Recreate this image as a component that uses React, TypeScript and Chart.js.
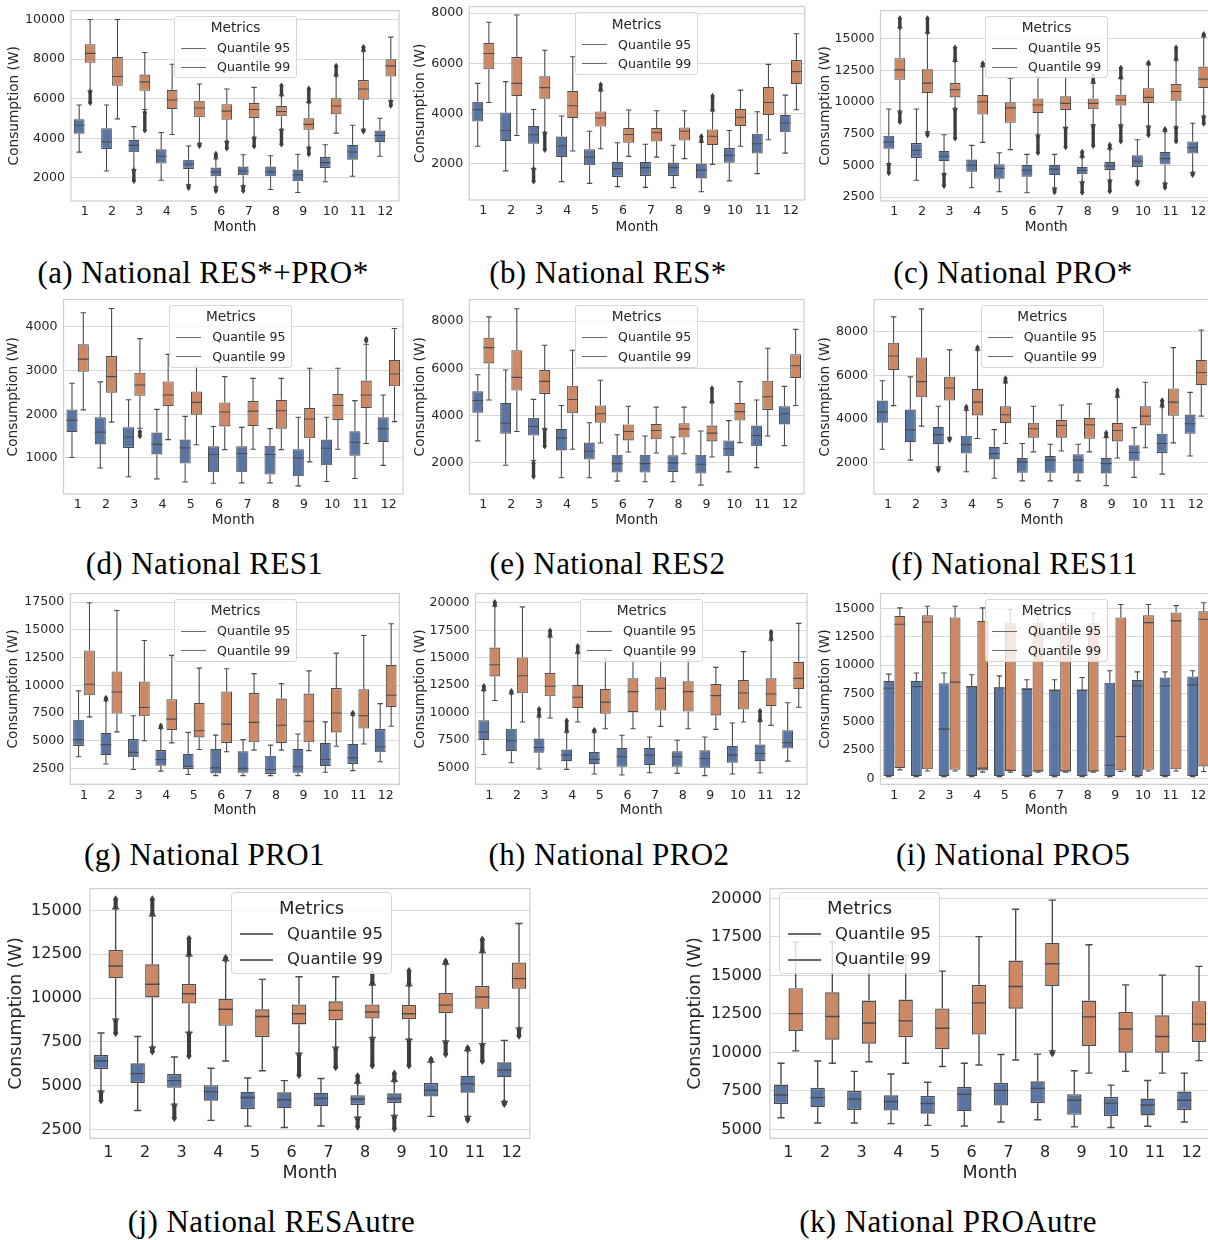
import React, { useEffect, useRef } from 'react';
import { Chart, registerables } from 'chart.js';

Chart.register(...registerables);

// ---------------- DATA ----------------
// Each box: [lower whisker, Q1, median, Q3, upper whisker]; outliers: list of [from, to] ranges per month
const MONTHS = ['1', '2', '3', '4', '5', '6', '7', '8', '9', '10', '11', '12'];
const SERIES = ['Quantile 95', 'Quantile 99'];

// (a) National RES*+PRO*
const A_TICKS = [2000, 4000, 6000, 8000, 10000];
const A_Q95 = [[3300, 4230, 4660, 4960, 5680], [2350, 3460, 3810, 4510, 5680], [2420, 3290, 3640, 3920, 4590], [1880, 2720, 3090, 3440, 4290], [1650, 2450, 2690, 2920, 3610], [1550, 2080, 2300, 2520, 2950], [1600, 2130, 2350, 2570, 3170], [1410, 2080, 2300, 2570, 3120], [1260, 1830, 2150, 2420, 3190], [1800, 2500, 2770, 3050, 3670], [2080, 2920, 3310, 3670, 4660], [3090, 3810, 4140, 4390, 5010]];
const A_OUT95 = [[], [], [[2380, 1850]], [], [[1600, 1500]], [[3050, 3200], [1500, 1350]], [[1550, 1350]], [], [], [], [], []];
const A_Q99 = [[6400, 7810, 8290, 8750, 10000], [4980, 6650, 7120, 8110, 10000], [5450, 6400, 6850, 7220, 8330], [4190, 5480, 5930, 6440, 7740], [3750, 5060, 5530, 5900, 6740], [3850, 4930, 5370, 5720, 6490], [4050, 5030, 5450, 5780, 6570], [4450, 5110, 5350, 5630, 6150], [3550, 4430, 4700, 5010, 5800], [4260, 5210, 5630, 6020, 7150], [4450, 5950, 6490, 6940, 8400], [5900, 7120, 7660, 7990, 9110]];
const A_OUT99 = [[[6350, 5800]], [], [[5300, 4400]], [], [[3700, 3620]], [[3800, 3500]], [[4000, 3600]], [[6200, 6650], [4400, 3700]], [[5850, 6500], [3500, 3200]], [[7200, 7650]], [[8450, 8600], [4400, 4350]], [[5850, 5650]]];

// (b) National RES*
const B_TICKS = [2000, 4000, 6000, 8000];
const B_Q95 = [[2690, 3680, 4150, 4470, 5200], [1710, 2900, 3320, 4040, 5270], [1800, 2790, 3150, 3500, 4160], [1280, 2260, 2700, 3080, 3900], [1210, 1930, 2260, 2570, 3290], [1080, 1470, 1800, 2070, 2830], [1050, 1510, 1840, 2070, 2770], [1040, 1510, 1840, 2040, 2730], [880, 1410, 1740, 2000, 2850], [1310, 2030, 2330, 2620, 3320], [1600, 2400, 2790, 3190, 4070], [2420, 3250, 3620, 3940, 4730]];
const B_OUT95 = [[], [], [[1780, 1300]], [], [], [], [], [], [[2900, 3080]], [], [], []];
const B_Q99 = [[4440, 5760, 6390, 6810, 7640], [3120, 4690, 5200, 6250, 7930], [3250, 4590, 5030, 5480, 6520], [2500, 3820, 4310, 4900, 6260], [2590, 3480, 3820, 4080, 4900], [2290, 2830, 3160, 3420, 4140], [2260, 2880, 3230, 3420, 4110], [2200, 2920, 3290, 3440, 4110], [1970, 2740, 3090, 3360, 4100], [2690, 3500, 3850, 4180, 4930], [2950, 3940, 4440, 5060, 5960], [4150, 5170, 5670, 6130, 7180]];
const B_OUT99 = [[], [], [[3200, 2550]], [], [[4950, 5150]], [], [], [], [[4150, 4700]], [], [], []];

// (c) National PRO*
const C_TICKS = [2500, 5000, 7500, 10000, 12500, 15000];
const C_Q95 = [[5150, 6320, 6840, 7340, 9450], [3830, 5590, 6190, 6760, 9450], [4350, 5330, 5720, 6140, 7420], [3230, 4490, 5010, 5460, 6580], [2920, 3940, 4750, 5090, 6000], [2840, 4100, 4620, 5040, 5870], [3200, 4230, 4700, 5040, 5870], [3700, 4300, 4620, 4880, 5650], [3850, 4620, 4960, 5270, 6300], [3750, 4880, 5330, 5800, 7020], [3600, 5060, 5530, 6060, 7700], [4450, 5930, 6400, 6890, 8330]];
const C_OUT95 = [[[5050, 4400]], [], [[4250, 3400]], [], [], [], [[3100, 2900]], [[5700, 6050], [3600, 2850]], [[6350, 6600], [3750, 2950]], [[3700, 3550]], [[7750, 7850], [3500, 3250]], [[4350, 4250]]];
const C_Q99 = [[9300, 11760, 12540, 13460, 15850], [7650, 10710, 11500, 12590, 15450], [9500, 10370, 10970, 11500, 13200], [6820, 9010, 10030, 10560, 12800], [6240, 8360, 9540, 9980, 11890], [7400, 9140, 9770, 10290, 11990], [8000, 9380, 9900, 10450, 11940], [8200, 9430, 9900, 10290, 11500], [8200, 9720, 10160, 10580, 11850], [8100, 9930, 10370, 11100, 12950], [8050, 10110, 10840, 11420, 13300], [8900, 11100, 11810, 12800, 15150]];
const C_OUT99 = [[[15900, 16600], [9200, 8450]], [[15500, 16600], [7550, 7400]], [[13300, 14300], [9400, 7150]], [[12900, 13050]], [], [[7300, 6000]], [[7900, 6450]], [[11600, 12050], [8100, 6550]], [[11950, 12700], [8100, 6900]], [[13000, 13100], [8000, 7400]], [[13400, 14300], [7950, 6900]], [[15250, 15350], [8800, 8300]]];

// (d) National RES1
const D_TICKS = [1000, 2000, 3000, 4000];
const D_Q95 = [[1010, 1590, 1860, 2110, 2710], [770, 1310, 1590, 1930, 2740], [570, 1230, 1480, 1700, 2330], [520, 1080, 1310, 1580, 2110], [450, 870, 1230, 1420, 1950], [420, 670, 1080, 1270, 1720], [430, 670, 1100, 1270, 1700], [430, 620, 1080, 1280, 1670], [360, 580, 1000, 1200, 1930], [460, 830, 1220, 1420, 1930], [530, 1050, 1360, 1610, 2310], [830, 1360, 1670, 1930, 2440]];
const D_OUT95 = [[], [], [], [], [], [], [], [], [], [], [], []];
const D_Q99 = [[2100, 2970, 3260, 3600, 4320], [1820, 2490, 2860, 3330, 4420], [1680, 2420, 2670, 2950, 3730], [1420, 2190, 2440, 2750, 3370], [1300, 1990, 2270, 2520, 3110], [1190, 1720, 2050, 2270, 2860], [1200, 1730, 2070, 2300, 2820], [1190, 1670, 2080, 2330, 2820], [910, 1450, 1890, 2140, 3050], [1200, 1870, 2200, 2460, 3050], [1330, 2140, 2440, 2770, 3600], [1830, 2640, 2920, 3240, 3960]];
const D_OUT99 = [[], [], [[1600, 1500]], [], [], [], [], [], [], [], [[3680, 3720]], []];

// (e) National RES2
const E_TICKS = [2000, 4000, 6000, 8000];
const E_Q95 = [[2930, 4120, 4640, 5030, 5730], [1900, 3230, 3680, 4540, 5930], [2100, 3160, 3540, 3910, 4690], [1370, 2530, 3050, 3440, 4430], [1370, 2140, 2490, 2860, 3700], [1230, 1590, 1970, 2350, 3190], [1200, 1590, 1970, 2350, 3140], [1200, 1620, 2000, 2320, 3090], [1060, 1550, 1940, 2350, 3350], [1620, 2280, 2600, 2950, 3790], [1800, 2700, 3160, 3580, 4660], [2730, 3630, 4080, 4400, 5240]];
const E_OUT95 = [[], [], [[2000, 1420]], [], [], [], [], [], [], [], [], []];
const E_Q99 = [[4660, 6210, 6880, 7300, 8180], [3330, 5060, 5620, 6770, 8520], [3450, 4920, 5450, 5930, 6980], [2580, 4100, 4680, 5270, 6770], [2840, 3700, 4080, 4430, 5500], [2460, 2950, 3330, 3630, 4400], [2420, 3000, 3370, 3650, 4360], [2390, 3070, 3440, 3680, 4360], [2250, 2910, 3260, 3580, 4550], [2860, 3790, 4170, 4540, 5440], [3140, 4240, 4800, 5480, 6850], [4430, 5590, 6110, 6600, 7650]];
const E_OUT99 = [[], [], [[3400, 2700]], [], [], [], [], [], [[4600, 5150]], [], [], []];

// (f) National RES11
const F_TICKS = [2000, 4000, 6000, 8000];
const F_Q95 = [[2610, 3820, 4310, 4840, 5750], [2110, 2940, 3500, 4430, 5930], [1800, 2840, 3280, 3630, 4580], [1580, 2410, 2820, 3230, 4400], [1280, 2140, 2410, 2720, 3510], [1160, 1530, 2030, 2210, 2870], [1160, 1530, 2110, 2300, 2840], [1160, 1500, 2110, 2380, 2840], [940, 1500, 1950, 2210, 3150], [1320, 2080, 2460, 2790, 3600], [1470, 2440, 2870, 3320, 4550], [2300, 3320, 3780, 4200, 5220]];
const F_OUT95 = [[], [], [[1720, 1660]], [[4450, 4550]], [], [], [], [], [[3200, 3350]], [], [[4600, 4850]], []];
const F_Q99 = [[4610, 6240, 6890, 7500, 8680], [3670, 4990, 5710, 6820, 9050], [3150, 4840, 5420, 5940, 7170], [3100, 4160, 4770, 5380, 7150], [2870, 3810, 4190, 4580, 5650], [2490, 3140, 3550, 3830, 4580], [2530, 3140, 3700, 3960, 4640], [2490, 3090, 3730, 4050, 4690], [2210, 2970, 3470, 3820, 5000], [2680, 3700, 4130, 4580, 5680], [2900, 4150, 4770, 5400, 7270], [4130, 5550, 6130, 6710, 8080]];
const F_OUT99 = [[], [], [[3100, 3050]], [[7200, 7280]], [[5700, 5850]], [], [], [], [[5050, 5300]], [], [], []];

// (g) National PRO1
const G_TICKS = [2500, 5000, 7500, 10000, 12500, 15000, 17500];
const G_Q95 = [[3550, 4530, 5100, 6900, 9500], [2900, 3700, 4650, 5700, 8600], [2400, 3500, 3950, 5150, 7250], [2250, 2750, 3300, 4150, 6100], [1950, 2450, 2700, 3800, 5750], [1850, 2050, 2550, 4250, 5500], [1850, 2100, 2500, 4050, 5100], [1850, 2000, 2400, 3650, 4600], [1850, 2100, 2650, 4250, 5600], [2150, 2700, 3300, 4800, 6700], [2300, 2900, 3450, 4700, 7300], [3100, 3950, 4450, 6050, 8350]];
const G_OUT95 = [[], [[8700, 8850]], [], [[6200, 6350]], [], [], [], [], [], [], [[7400, 7500]], []];
const G_Q99 = [[7150, 9100, 10100, 13150, 17450], [5800, 7450, 9400, 11250, 16750], [5000, 7200, 8000, 10350, 14050], [4800, 5950, 6950, 8750, 12700], [4200, 5300, 5900, 8400, 11550], [4000, 4800, 6500, 9450, 11500], [4150, 4850, 6650, 9300, 11050], [4150, 4800, 6400, 8800, 10150], [4100, 4850, 6750, 9250, 11300], [4500, 5750, 7500, 9750, 12900], [4700, 6100, 7250, 9650, 14500], [6300, 8050, 9100, 11850, 15550]];
const G_OUT99 = [[], [], [], [], [], [], [], [], [], [], [], []];

// (h) National PRO2
const H_TICKS = [5000, 7500, 10000, 12500, 15000, 17500, 20000];
const H_Q95 = [[6180, 7480, 8230, 9290, 12000], [5420, 6480, 7420, 8530, 11700], [4850, 6330, 6810, 7630, 9600], [4820, 5570, 6120, 6630, 8200], [4400, 5300, 5730, 6420, 8200], [4310, 5060, 5970, 6780, 7930], [4520, 5210, 6120, 6780, 7780], [4460, 5060, 5970, 6480, 7480], [4250, 4970, 5820, 6570, 7780], [4400, 5420, 6120, 6960, 9050], [4520, 5570, 6270, 7080, 9200], [5570, 6720, 7260, 8380, 10890]];
const H_OUT95 = [[[12100, 12400]], [[11800, 11950]], [[9700, 10300]], [[8300, 9250]], [[8300, 8400]], [], [], [], [], [], [[9300, 10150]], []];
const H_Q99 = [[11100, 13300, 14360, 15930, 19700], [9140, 11760, 13360, 15020, 19640], [9500, 11490, 12400, 13600, 16900], [9140, 10400, 11400, 12520, 15400], [8530, 9890, 10950, 12150, 14870], [8530, 10040, 11910, 13120, 14720], [8740, 10190, 12210, 13210, 15110], [8530, 10100, 11910, 12850, 14810], [8470, 9740, 11550, 12610, 14120], [9140, 10280, 11790, 12970, 15560], [8830, 10580, 11700, 13120, 16600], [10490, 12150, 13120, 14630, 18130]];
const H_OUT99 = [[[19800, 20050]], [], [[17000, 17450]], [[15500, 16050]], [], [], [], [], [], [], [[16700, 17350]], []];

// (i) National PRO5
const I_TICKS = [0, 2500, 5000, 7500, 10000, 12500, 15000];
const I_Q95 = [[150, 200, 7950, 8600, 9200], [150, 200, 8100, 8600, 9300], [150, 200, 4350, 8400, 9300], [150, 200, 8100, 8100, 9150], [150, 200, 8000, 8000, 9050], [150, 200, 7900, 7900, 8700], [150, 200, 7800, 7800, 8700], [150, 200, 7800, 7800, 8900], [150, 200, 1150, 8450, 9500], [150, 200, 8150, 8700, 9400], [150, 200, 8150, 8900, 9400], [150, 200, 8250, 9000, 9500]];
const I_OUT95 = [[], [], [], [], [], [], [], [], [], [], [], []];
const I_Q99 = [[750, 900, 13600, 14350, 15050], [650, 800, 13800, 14400, 15200], [650, 750, 8500, 14200, 15200], [550, 700, 900, 13900, 15050], [550, 650, 700, 13700, 14900], [550, 620, 650, 13700, 14700], [550, 620, 650, 13700, 14500], [550, 620, 650, 13700, 14600], [600, 700, 3700, 14200, 15350], [650, 750, 13750, 14400, 15350], [650, 800, 13900, 14650, 15250], [600, 1050, 14050, 14750, 15500]];
const I_OUT99 = [[], [], [], [], [], [], [], [], [], [], [], []];

// (j) National RESAutre
const J_TICKS = [2500, 5000, 7500, 10000, 12500, 15000];
const J_Q95 = [[4700, 5950, 6410, 6750, 8010], [3580, 5160, 5690, 6280, 7810], [3950, 4880, 5290, 5670, 6640], [3020, 4140, 4660, 5030, 6000], [2690, 3670, 4330, 4660, 5440], [2610, 3710, 4200, 4620, 5290], [2700, 3820, 4270, 4600, 5410], [3200, 3900, 4230, 4460, 5150], [3300, 4010, 4270, 4570, 5250], [3250, 4380, 4740, 5160, 6350], [3250, 4600, 5110, 5570, 7000], [4100, 5480, 5890, 6340, 7590]];
const J_OUT95 = [[[4600, 4150]], [], [[3850, 3150]], [], [], [], [], [[5200, 5550], [3100, 2650]], [[5300, 5700], [3200, 2550]], [[6400, 6500]], [[7050, 7150], [3150, 3050]], [[4050, 3950]]];
const J_Q99 = [[8800, 11130, 11830, 12750, 15100], [7200, 10040, 10790, 11930, 14700], [8050, 9690, 10250, 10810, 12400], [6410, 8420, 9360, 9950, 12150], [5850, 7770, 8950, 9360, 11070], [6850, 8500, 9110, 9640, 11220], [7200, 8740, 9300, 9820, 11220], [7750, 8830, 9210, 9640, 10750], [7650, 8800, 9110, 9600, 10700], [7550, 9130, 9600, 10290, 11950], [7400, 9390, 10060, 10700, 12600], [8300, 10530, 11110, 12040, 14260]];
const J_OUT99 = [[[15200, 15650], [8700, 8000]], [[14800, 15650], [7150, 6950]], [[12500, 13400], [7950, 6700]], [[12200, 12300]], [], [[6750, 5600]], [[7100, 6050]], [[10850, 11400], [7650, 6150]], [[10800, 11550], [7550, 6150]], [[12000, 12100], [7450, 6800]], [[12700, 13350], [7300, 6400]], [[8200, 7850]]];

// (k) National PROAutre
const K_TICKS = [5000, 7500, 10000, 12500, 15000, 17500, 20000];
const K_Q95 = [[5760, 6650, 7240, 7920, 9300], [5420, 6440, 7070, 7710, 9450], [5420, 6270, 6970, 7500, 8770], [5380, 6230, 6820, 7220, 8600], [5270, 6020, 6690, 7180, 8070], [5230, 6180, 7290, 7750, 9300], [5490, 6550, 7540, 8030, 9870], [5630, 6710, 7670, 8130, 9890], [5170, 5950, 6900, 7290, 8810], [5130, 5870, 6710, 7120, 7880], [5210, 5910, 6590, 7010, 8180], [5490, 6270, 6900, 7460, 8660]];
const K_OUT95 = [[], [], [], [], [], [], [], [], [], [], [], []];
const K_Q99 = [[10100, 11400, 12520, 14170, 17180], [9300, 10830, 12330, 13900, 17180], [9400, 10570, 11910, 13370, 16080], [9300, 10990, 12050, 13430, 16290], [9090, 10210, 11570, 12860, 15280], [9190, 11160, 13220, 14390, 17520], [9510, 12840, 14280, 15970, 19300], [10100, 14320, 15760, 17100, 19890], [8660, 10420, 12310, 13370, 16990], [8770, 9980, 11520, 12630, 14390], [8660, 9980, 11040, 12410, 15020], [9470, 10680, 11840, 13330, 15590]];
const K_OUT99 = [[], [], [], [], [], [], [], [[10000, 9950]], [], [], [], []];

// ---------------- STYLE / LAYOUT ----------------
const FONT = 'DejaVu Sans';
const TXT = '#262626';
const BLUE = '#5875a4';
const ORANGE = '#cc8963';
const LINE = '#4c4c4c';
const GRID = '#d8d8d8';
const FRAME = '#cfcfcf';

interface Panel {
  title: string;
  q95: number[][]; q99: number[][]; out95: number[][][]; out99: number[][][];
  ticks: number[];
  range: number[];      // y axis extent
  plot: number[];       // [left, top, right, bottom] in page px
  yTitleX: number; monthY: number;
  legend: number[];
  cap: number[];
  big?: boolean;
}

const PANELS: Panel[] = [
  { title: '(a) National RES*+PRO*', q95: A_Q95, q99: A_Q99, out95: A_OUT95, out99: A_OUT99, ticks: A_TICKS, range: [831, 10452], plot: [71, 9.3, 399, 201], yTitleX: 14, monthY: 227.7, legend: [174, 15.7], cap: [203, 272.5] },
  { title: '(b) National RES*', q95: B_Q95, q99: B_Q99, out95: B_OUT95, out99: B_OUT99, ticks: B_TICKS, range: [548, 8265], plot: [469.3, 5, 804.8, 200], yTitleX: 420, monthY: 227.7, legend: [575, 12.3], cap: [608, 272.5] },
  { title: '(c) National PRO*', q95: C_Q95, q99: C_Q99, out95: C_OUT95, out99: C_OUT99, ticks: C_TICKS, range: [2186, 17228], plot: [880.5, 9.3, 1212, 201], yTitleX: 825, monthY: 227.7, legend: [985, 15.7], cap: [1013, 272.5] },
  { title: '(d) National RES1', q95: D_Q95, q99: D_Q99, out95: D_OUT95, out99: D_OUT99, ticks: D_TICKS, range: [175, 4623], plot: [63.5, 298.3, 403, 494], yTitleX: 13, monthY: 521, legend: [169.3, 305], cap: [204.5, 564] },
  { title: '(e) National RES2', q95: E_Q95, q99: E_Q99, out95: E_OUT95, out99: E_OUT99, ticks: E_TICKS, range: [684, 8912], plot: [469.4, 298.3, 804, 494], yTitleX: 420, monthY: 520.7, legend: [575, 305], cap: [607.5, 564] },
  { title: '(f) National RES11', q95: F_Q95, q99: F_Q99, out95: F_OUT95, out99: F_OUT99, ticks: F_TICKS, range: [556, 9476], plot: [874, 298.3, 1209.7, 494], yTitleX: 825, monthY: 521, legend: [980.7, 305], cap: [1014.5, 564] },
  { title: '(g) National PRO1', q95: G_Q95, q99: G_Q99, out95: G_OUT95, out99: G_OUT99, ticks: G_TICKS, range: [1065, 18280], plot: [70.3, 592.3, 399.4, 784.3], yTitleX: 13, monthY: 810.7, legend: [174, 599], cap: [204.5, 855] },
  { title: '(h) National PRO2', q95: H_Q95, q99: H_Q99, out95: H_OUT95, out99: H_OUT99, ticks: H_TICKS, range: [3461, 20851], plot: [475.5, 592.3, 807, 784.3], yTitleX: 420, monthY: 810.7, legend: [580, 599], cap: [609, 855] },
  { title: '(i) National PRO5', q95: I_Q95, q99: I_Q99, out95: I_OUT95, out99: I_OUT99, ticks: I_TICKS, range: [-526, 16316], plot: [880.5, 592.3, 1212, 784.3], yTitleX: 825, monthY: 810.7, legend: [985, 599], cap: [1013, 855] },
  { title: '(j) National RESAutre', q95: J_Q95, q99: J_Q99, out95: J_OUT95, out99: J_OUT99, ticks: J_TICKS, range: [1997, 16252], plot: [90, 883.3, 530, 1138.3], yTitleX: 16, monthY: 1173.3, legend: [231, 892], cap: [271.5, 1222], big: true },
  { title: '(k) National PROAutre', q95: K_Q95, q99: K_Q99, out95: K_OUT95, out99: K_OUT99, ticks: K_TICKS, range: [4428, 20636], plot: [770, 883.3, 1210, 1138.3], yTitleX: 695, monthY: 1173.3, legend: [779, 892], cap: [948, 1222], big: true },
];

function Legend({ x, y, s }: { x: number; y: number; s: number }) {
  const w = 123 * s, h = 62.5 * s;
  const tf = 13.7 * s, ef = 12.6 * s;
  const row = (cy: number, label: string) => (
    <>
      <div style={{ position: 'absolute', left: 6 * s, top: Math.round(cy) - 1, width: 25 * s, height: 1.2 * s, background: '#6a6a6a' }} />
      <div style={{ position: 'absolute', left: 42 * s, top: cy - 0.5 * ef, fontSize: ef, lineHeight: `${ef}px`, whiteSpace: 'nowrap' }}>{label}</div>
    </>
  );
  return (
    <div style={{ position: 'absolute', left: x, top: y, width: w, height: h, boxSizing: 'border-box', border: '1px solid #d6d6d6', borderRadius: 3 * s, background: 'rgba(255,255,255,0.8)', fontFamily: FONT, color: TXT }}>
      <div style={{ position: 'absolute', left: 0, width: w - 2, top: 11.3 * s - 0.5 * tf, textAlign: 'center', fontSize: tf, lineHeight: `${tf}px` }}>Metrics</div>
      {row(31.6 * s, SERIES[0])}
      {row(50.8 * s, SERIES[1])}
    </div>
  );
}

function BoxPanel({ p }: { p: Panel }) {
  const ref = useRef<HTMLCanvasElement>(null);
  const big = !!p.big;
  const s = big ? 1.31 : 1;
  const ts = big ? 16 : 12.6;
  const ls = big ? 17.5 : 13.7;
  const [L, T, R, B] = p.plot;
  const cl = Math.round(p.yTitleX - 0.6 * ls - 2);
  const ct = Math.round(T - 12);
  const cr = Math.round(R + 12);
  const cb = Math.round(p.monthY + 0.6 * ls + 2);
  const W = cr - cl, H = cb - ct;

  useEffect(() => {
    const canvas = ref.current;
    if (!canvas) return;
    const lw = big ? 1.4 : 1.1;
    const msz = big ? 6 : 5;
    const boxPlugin = {
      id: 'boxes',
      afterDatasetsDraw(chart: any) {
        const ctx = chart.ctx;
        const ys = chart.scales.y;
        const ca = chart.chartArea;
        ctx.save();
        ctx.beginPath();
        ctx.rect(ca.left, ca.top, ca.right - ca.left, ca.bottom - ca.top);
        ctx.clip();
        const sets = [{ st: p.q95, out: p.out95 }, { st: p.q99, out: p.out99 }];
        sets.forEach((set, di) => {
          const meta = chart.getDatasetMeta(di);
          meta.data.forEach((bar: any, j: number) => {
            const [lo, q1, med, q3, hi] = set.st[j];
            const x = bar.x, w = bar.width;
            const Y = (v: number) => ys.getPixelForValue(v);
            // outliers
            ctx.fillStyle = '#3d3d3d';
            (set.out[j] || []).forEach((r: number[]) => {
              const ya = Y(r[0]), yb = Y(r[1]);
              const top = Math.min(ya, yb), bot = Math.max(ya, yb);
              const hw = msz * 0.45, hh = msz * 0.65;
              ctx.fillRect(x - hw * 0.75, top, hw * 1.5, bot - top);
              [top, bot].forEach((yy) => {
                ctx.beginPath();
                ctx.moveTo(x, yy - hh);
                ctx.lineTo(x + hw, yy);
                ctx.lineTo(x, yy + hh);
                ctx.lineTo(x - hw, yy);
                ctx.closePath();
                ctx.fill();
              });
            });
            // whiskers and caps
            ctx.strokeStyle = LINE;
            ctx.lineWidth = lw;
            ctx.beginPath();
            ctx.moveTo(x, Y(q3)); ctx.lineTo(x, Y(hi));
            ctx.moveTo(x, Y(q1)); ctx.lineTo(x, Y(lo));
            ctx.moveTo(x - w / 4, Y(hi)); ctx.lineTo(x + w / 4, Y(hi));
            ctx.moveTo(x - w / 4, Y(lo)); ctx.lineTo(x + w / 4, Y(lo));
            ctx.stroke();
            // median
            ctx.beginPath();
            ctx.moveTo(x - w / 2, Y(med)); ctx.lineTo(x + w / 2, Y(med));
            ctx.stroke();
          });
        });
        ctx.restore();
        // frame
        ctx.save();
        ctx.strokeStyle = FRAME;
        ctx.lineWidth = 1.25;
        ctx.strokeRect(ca.left, ca.top, ca.right - ca.left, ca.bottom - ca.top);
        ctx.restore();
      },
    };

    const chart = new Chart(canvas, {
      type: 'bar',
      data: {
        labels: MONTHS,
        datasets: [
          { label: SERIES[0], data: p.q95.map((b) => [b[1], b[3]]), backgroundColor: BLUE, borderColor: LINE, borderWidth: lw, borderSkipped: false, categoryPercentage: 0.8, barPercentage: 0.98 } as any,
          { label: SERIES[1], data: p.q99.map((b) => [b[1], b[3]]), backgroundColor: ORANGE, borderColor: LINE, borderWidth: lw, borderSkipped: false, categoryPercentage: 0.8, barPercentage: 0.98 } as any,
        ],
      },
      options: {
        responsive: false,
        animation: false,
        devicePixelRatio: 1,
        layout: { padding: { left: 0, top: T - ct, right: cr - R, bottom: 0 } },
        plugins: { legend: { display: false }, tooltip: { enabled: false } },
        scales: {
          x: {
            type: 'category',
            offset: true,
            grid: { display: false, drawTicks: false },
            border: { display: false },
            ticks: { font: { family: FONT, size: ts }, color: TXT, padding: big ? 5.4 : 3.4, maxRotation: 0, autoSkip: false },
            title: { display: true, text: 'Month', font: { family: FONT, size: ls }, color: TXT, padding: { top: 0, bottom: 2 } },
            afterFit: (sc: any) => { sc.height = cb - B; },
          },
          y: {
            type: 'linear',
            min: p.range[0],
            max: p.range[1],
            grid: { color: GRID, lineWidth: 1, drawTicks: false },
            border: { display: false },
            afterBuildTicks: (sc: any) => { sc.ticks = p.ticks.map((v) => ({ value: v })); },
            ticks: { font: { family: FONT, size: ts }, color: TXT, padding: big ? 8 : 6, callback: (v: any) => String(v) },
            title: { display: true, text: 'Consumption (W)', font: { family: FONT, size: ls }, color: TXT, padding: { top: 2, bottom: 0 } },
            afterFit: (sc: any) => { sc.width = L - cl; },
          },
        },
      } as any,
      plugins: [boxPlugin],
    });
    return () => chart.destroy();
  }, []);

  return (
    <>
      <canvas ref={ref} width={W} height={H} style={{ position: 'absolute', left: cl, top: ct, width: W, height: H }} />
      <Legend x={p.legend[0]} y={p.legend[1]} s={s} />
      <div style={{ position: 'absolute', left: p.cap[0] - 300, width: 600, top: p.cap[1] - 18, textAlign: 'center', fontFamily: '"Liberation Serif", serif', fontSize: 31, letterSpacing: '0.4px', lineHeight: '36px', color: '#000', whiteSpace: 'nowrap' }}>{p.title}</div>
    </>
  );
}

export default function App() {
  return (
    <div style={{ position: 'absolute', left: 0, top: 0, width: 1208, height: 1240, overflow: 'hidden', background: '#fff' }}>
      {PANELS.map((p) => <BoxPanel key={p.title} p={p} />)}
    </div>
  );
}
